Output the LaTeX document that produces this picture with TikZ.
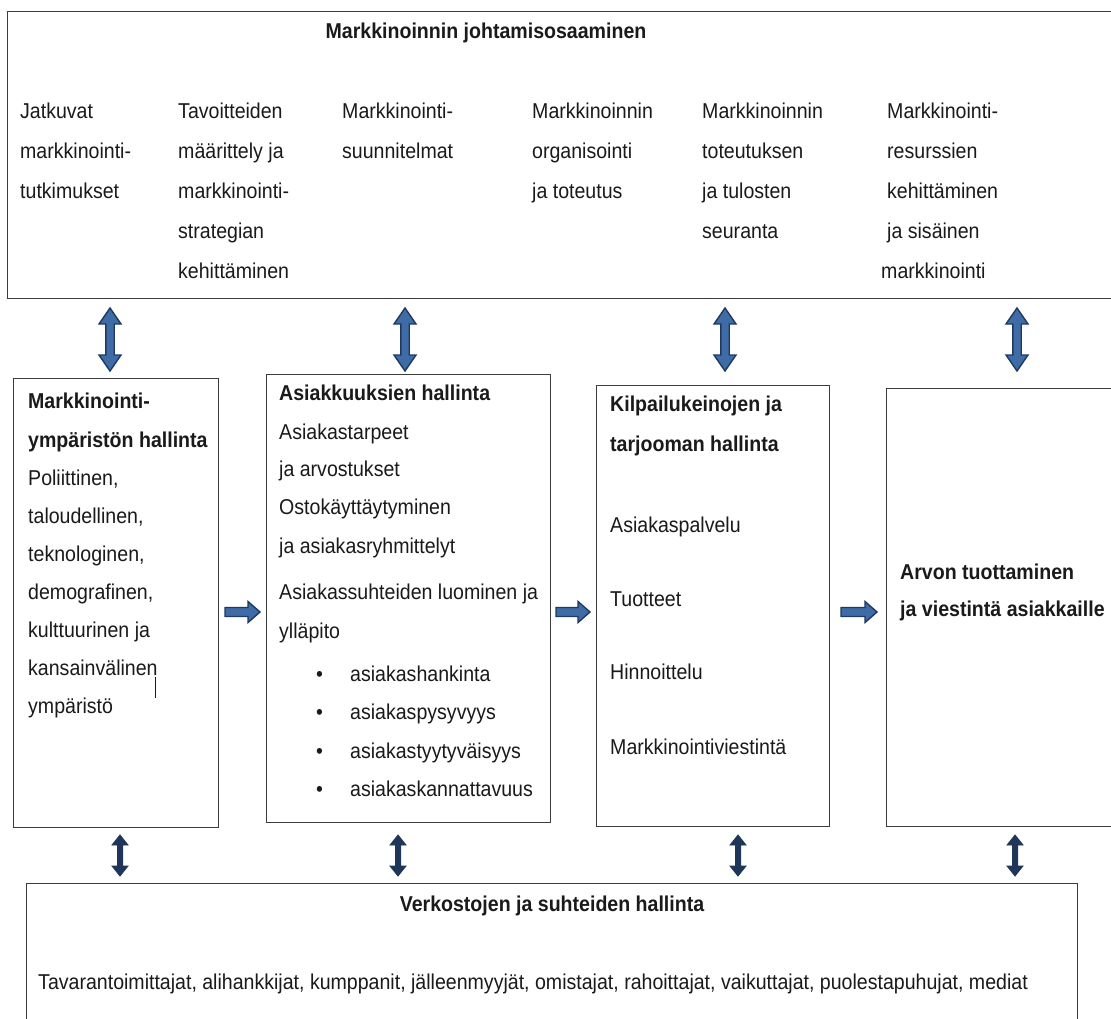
\documentclass[tikz,border=0pt]{standalone}
\usepackage{fontspec}
\setmainfont{Liberation Sans}[FakeStretch=0.91]
\usetikzlibrary{calc}
\definecolor{ink}{HTML}{1A1A1A}
\definecolor{frame}{HTML}{3C3C3C}
\definecolor{arrowfill}{HTML}{3F6CA6}
\definecolor{arrowedge}{HTML}{1F3A60}
\definecolor{navy}{HTML}{1F3658}

% vertical block arrow with two heads: style, upper end, lower end, shaft half-width, head half-width, head length
\newcommand\vdarrow[6]{%
  \path[#1] let \p1=(#2), \p2=(#3) in
    (\x1,\y1) -- (\x1+#5,\y1-#6) -- (\x1+#4,\y1-#6) -- (\x1+#4,\y2+#6) -- (\x1+#5,\y2+#6)
    -- (\x1,\y2) -- (\x1-#5,\y2+#6) -- (\x1-#4,\y2+#6) -- (\x1-#4,\y1-#6) -- (\x1-#5,\y1-#6) -- cycle;}
% horizontal block arrow pointing right: style, tail, tip, shaft half-width, head half-width, head length
\newcommand\hrarrow[6]{%
  \path[#1] let \p1=(#2), \p2=(#3) in
    (\x1,\y1+#4) -- (\x2-#6,\y1+#4) -- (\x2-#6,\y1+#5) -- (\x2,\y1) -- (\x2-#6,\y1-#5)
    -- (\x2-#6,\y1-#4) -- (\x1,\y1-#4) -- cycle;}

\begin{document}
\begin{tikzpicture}[x=1pt,y=-1pt,
  txt/.style={anchor=base west, inner sep=0pt, text=ink, font=\fontsize{21.5}{26}\selectfont},
  head/.style={txt, font=\fontsize{21.5}{26}\selectfont\bfseries},
  panel/.style={draw=frame, line width=1.3pt, inner sep=0pt, anchor=north west},
  bigarrow/.style={fill=arrowfill, draw=arrowedge, line width=1.4pt, line join=miter},
  smallarrow/.style={fill=navy, draw=navy, line width=0.8pt, line join=miter},
  flowarrow/.style={fill=arrowfill, draw=arrowedge, line width=1.4pt, line join=miter}]
\useasboundingbox (0,0) rectangle (1111,1018);
\clip (0,0) rectangle (1111,1018);
\fill[white] (0,0) rectangle (1111,1018);

% frames
\node[panel, minimum width=1120pt, minimum height=287pt] (mgmt) at (7,11) {};
\node[panel, minimum width=205pt, minimum height=449pt] (env) at (13,378) {};
\node[panel, minimum width=284pt, minimum height=448pt] (cust) at (266,374) {};
\node[panel, minimum width=233pt, minimum height=441pt] (comp) at (596,385) {};
\node[panel, minimum width=240pt, minimum height=438pt] (value) at (886,388) {};
\node[panel, minimum width=1051pt, minimum height=150pt] (net) at (26,883) {};

% management competence panel
\node[head, anchor=base] (mgmtT) at (486,38) {Markkinoinnin johtamisosaaminen};
\foreach \t [count=\i] in {Jatkuvat, markkinointi-, tutkimukset}
  \node[txt] (m1l\i) at (20,{78+40*\i}) {\t};
\foreach \t [count=\i] in {Tavoitteiden, määrittely ja, markkinointi-, strategian, kehittäminen}
  \node[txt] (m2l\i) at (178,{78+40*\i}) {\t};
\foreach \t [count=\i] in {Markkinointi-, suunnitelmat}
  \node[txt] (m3l\i) at (342,{78+40*\i}) {\t};
\foreach \t [count=\i] in {Markkinoinnin, organisointi, ja toteutus}
  \node[txt] (m4l\i) at (532,{78+40*\i}) {\t};
\foreach \t [count=\i] in {Markkinoinnin, toteutuksen, ja tulosten, seuranta}
  \node[txt] (m5l\i) at (702,{78+40*\i}) {\t};
\foreach \t [count=\i] in {Markkinointi-, resurssien, kehittäminen, ja sisäinen}
  \node[txt] (m6l\i) at (887,{78+40*\i}) {\t};
\node[txt] (m6l5) at (881,278) {markkinointi};

% environment panel
\node[head] (envT1) at (28,408) {Markkinointi-};
\node[head] (envT2) at (28,447) {ympäristön hallinta};
\foreach \t [count=\i] in {{Poliittinen,}, {taloudellinen,}, {teknologinen,}, {demografinen,}, kulttuurinen ja, kansainvälinen, ympäristö}
  \node[txt] (envl\i) at (28,{447+38*\i}) {\t};
\draw[ink, line width=0.9pt] (155,677) coordinate (caretT) -- (155,698) coordinate (caretB);

% customer relationship panel
\node[head] (custT) at (279,400) {Asiakkuuksien hallinta};
\node[txt] (cl1) at (279,439) {Asiakastarpeet};
\node[txt] (cl2) at (279,476) {ja arvostukset};
\node[txt] (cl3) at (279,514) {Ostokäyttäytyminen};
\node[txt] (cl4) at (279,553) {ja asiakasryhmittelyt};
\node[txt] (cl5) at (279,599) {Asiakassuhteiden luominen ja};
\node[txt] (cl6) at (279,638) {ylläpito};
\foreach \t/\y [count=\i] in {asiakashankinta/681, asiakaspysyvyys/719, asiakastyytyväisyys/758, asiakaskannattavuus/796}{
  \node[txt] (cb\i) at (316,\y) {•};
  \node[txt] (ci\i) at (350,\y) {\t};
}

% competitive means panel
\node[head] (compT1) at (610,411) {Kilpailukeinojen ja};
\node[head] (compT2) at (610,451) {tarjooman hallinta};
\foreach \t/\y [count=\i] in {Asiakaspalvelu/532, Tuotteet/606, Hinnoittelu/679, Markkinointiviestintä/754}
  \node[txt] (cm\i) at (610,\y) {\t};

% value panel
\node[head] (valT1) at (900,579) {Arvon tuottaminen};
\node[head] (valT2) at (900,616) {ja viestintä asiakkaille};

% network panel
\node[head, anchor=base] (netT) at (552,911) {Verkostojen ja suhteiden hallinta};
\node[txt] (netL) at (38,989) {Tavarantoimittajat, alihankkijat, kumppanit, jälleenmyyjät, omistajat, rahoittajat, vaikuttajat, puolestapuhujat, mediat};

% links between management panel and the four areas
\foreach \x [count=\i] in {110,405,725,1017}{
  \coordinate (ua\i) at (\x,308);
  \coordinate (la\i) at (\x,371);
}
\foreach \i in {1,...,4}{
  \vdarrow{bigarrow}{ua\i}{la\i}{4.2pt}{11pt}{16pt}
}

% links between the four areas and the network panel
\foreach \x [count=\i] in {120,398,738,1015}{
  \coordinate (ub\i) at (\x,835);
  \coordinate (lb\i) at (\x,876);
}
\foreach \i in {1,...,4}{
  \vdarrow{smallarrow}{ub\i}{lb\i}{2.6pt}{8pt}{10pt}
}

% flow from left to right
\coordinate (f1a) at (225,612); \coordinate (f1b) at (260,612);
\coordinate (f2a) at (556,612); \coordinate (f2b) at (590,612);
\coordinate (f3a) at (841,612); \coordinate (f3b) at (877,612);
\hrarrow{flowarrow}{f1a}{f1b}{4.5pt}{10.5pt}{12pt}
\hrarrow{flowarrow}{f2a}{f2b}{4.5pt}{10.5pt}{12pt}
\hrarrow{flowarrow}{f3a}{f3b}{4.5pt}{10.5pt}{12pt}
\end{tikzpicture}
\end{document}
